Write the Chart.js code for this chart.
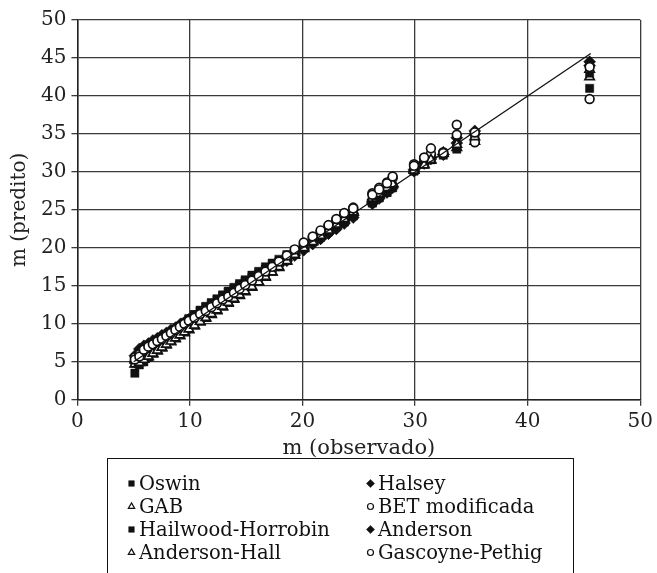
<!DOCTYPE html>
<html>
<head>
<meta charset="utf-8">
<script src="https://cdn.jsdelivr.net/npm/chart.js@4.4.1/dist/chart.umd.min.js"></script>
<style>
  html, body { margin: 0; padding: 0; background: #fff; }
  #wrap { position: relative; width: 657px; height: 573px; overflow: hidden; }
  #myChart { position: absolute; left: 0; top: 0; }
  #legend {
    position: absolute; left: 107px; top: 458px; width: 467px; height: 150px;
    border: 1.5px solid #111; box-sizing: border-box;
    font-family: 'DejaVu Serif', serif; font-size: 19.5px; color: #111;
  }
  .item { position: absolute; height: 24px; display: flex; align-items: center; white-space: nowrap; }
  .item canvas { margin-right: 1px; }
</style>
</head>
<body>
<div id="wrap">
  <canvas id="myChart" width="657" height="573"></canvas>
  <div id="legend"></div>
</div>
<script>
// observed moisture content (shared by all models)
const obsX = [5.1, 5.5, 5.9, 6.3, 6.7, 7.1, 7.5, 7.9, 8.3, 8.7,
              9.1, 9.5, 9.9, 10.4, 10.9, 11.4, 11.9, 12.4, 12.9, 13.4,
              13.9, 14.4, 14.9, 15.5, 16.1, 16.7, 17.3, 17.9, 18.6, 19.3,
              20.1, 20.9, 21.6, 22.3, 23.0, 23.7, 24.5, 26.2, 26.8, 27.5,
              28.0, 29.9, 30.8, 31.4, 32.5, 33.7, 35.3, 45.5];

// predicted values per model
const oswin = [3.5, 4.6, 5.0, 5.6, 6.2, 6.8, 7.5, 8.0, 8.6, 9.1,
               9.6, 10.1, 10.6, 11.2, 11.7, 12.2, 12.7, 13.2, 13.7, 14.2,
               14.6, 15.1, 15.6, 16.1, 16.6, 17.2, 17.7, 18.2, 18.8, 19.4,
               20.1, 20.8, 21.4, 22.1, 22.8, 23.4, 24.2, 25.9, 26.6, 27.3,
               28.1, 30.2, 31.2, 31.9, 32.4, 33.4, 34.6, 41.0];
const halsey = [5.8, 6.7, 7.1, 7.4, 7.8, 8.1, 8.5, 8.8, 9.2, 9.5,
                9.9, 10.2, 10.6, 11.0, 11.4, 11.9, 12.3, 12.8, 13.2, 13.7,
                14.1, 14.6, 15.0, 15.6, 16.1, 16.6, 17.2, 17.7, 18.3, 19.0,
                19.7, 20.5, 21.2, 21.9, 22.7, 23.4, 24.3, 26.0, 26.7, 27.5,
                28.1, 30.3, 31.3, 32.0, 32.3, 34.5, 35.4, 44.5];
const gab = [5.2, 5.0, 5.3, 5.6, 6.0, 6.4, 6.8, 7.2, 7.6, 8.0,
             8.4, 8.8, 9.2, 9.7, 10.2, 10.7, 11.2, 11.7, 12.2, 12.7,
             13.2, 13.7, 14.2, 14.8, 15.5, 16.1, 16.8, 17.4, 18.2, 19.0,
             19.9, 20.8, 21.6, 22.4, 23.2, 24.0, 24.9, 26.7, 27.3, 28.0,
             28.5, 30.3, 31.0, 31.5, 32.4, 33.2, 34.0, 42.5];
const betMod = [5.6, 6.0, 6.4, 6.8, 7.2, 7.5, 7.9, 8.3, 8.7, 9.0,
                9.4, 9.8, 10.2, 10.6, 11.1, 11.5, 12.0, 12.5, 12.9, 13.4,
                13.9, 14.3, 14.8, 15.4, 16.0, 16.6, 17.2, 17.9, 18.7, 19.5,
                20.4, 21.3, 22.1, 22.9, 23.7, 24.5, 25.3, 27.2, 27.9, 28.6,
                29.2, 31.0, 31.8, 32.4, 32.6, 36.2, 33.9, 39.6];
const hailwood = [4.8, 5.3, 5.7, 6.2, 6.7, 7.2, 7.7, 8.2, 8.7, 9.2,
                  9.7, 10.2, 10.7, 11.2, 11.8, 12.3, 12.8, 13.3, 13.8, 14.3,
                  14.8, 15.3, 15.8, 16.4, 16.9, 17.5, 18.0, 18.5, 19.1, 19.7,
                  20.3, 21.0, 21.6, 22.2, 22.9, 23.5, 24.3, 26.0, 26.6, 27.3,
                  27.9, 30.1, 31.0, 31.6, 32.2, 33.0, 34.2, 43.0];
const anderson = [5.0, 5.4, 5.8, 6.3, 6.8, 7.3, 7.8, 8.2, 8.7, 9.2,
                  9.6, 10.1, 10.5, 11.0, 11.5, 12.0, 12.4, 12.9, 13.4, 13.9,
                  14.3, 14.8, 15.3, 15.9, 16.4, 16.9, 17.4, 18.0, 18.6, 19.2,
                  19.9, 20.6, 21.2, 21.9, 22.5, 23.2, 24.0, 25.8, 26.5, 27.3,
                  27.9, 30.1, 31.1, 31.7, 32.3, 33.8, 35.0, 44.0];
const andersonHall = [4.7, 4.9, 5.3, 5.7, 6.1, 6.5, 6.9, 7.3, 7.7, 8.1,
                      8.5, 8.9, 9.3, 9.8, 10.3, 10.8, 11.3, 11.8, 12.3, 12.8,
                      13.3, 13.8, 14.3, 14.9, 15.5, 16.2, 16.8, 17.5, 18.3, 19.1,
                      20.0, 20.8, 21.6, 22.3, 23.1, 23.8, 24.7, 26.5, 27.1, 27.9,
                      28.4, 30.2, 30.9, 31.6, 32.5, 33.6, 34.6, 43.5];
const gascoyne = [5.3, 5.7, 6.6, 7.0, 7.3, 7.7, 8.0, 8.4, 8.8, 9.2,
                  9.6, 10.0, 10.4, 10.8, 11.3, 11.7, 12.2, 12.7, 13.2, 13.6,
                  14.1, 14.6, 15.1, 15.7, 16.3, 16.9, 17.5, 18.2, 19.0, 19.8,
                  20.7, 21.5, 22.3, 23.0, 23.8, 24.6, 25.2, 27.0, 27.7, 28.5,
                  29.4, 30.8, 31.9, 33.1, 32.5, 34.9, 35.2, 43.8];

// 1:1 reference line
const fitX = [5, 45.6];
const fitY = [5, 45.6];

const FONT = "'DejaVu Serif', serif";

function toPoints(xs, ys) {
  return xs.map(function(x, i) { return { x: x, y: ys[i] }; });
}

function series(label, values, style, filled, order) {
  const size = { rect: 5.8, rectRot: 6, triangle: 5.4, circle: 4.4 }[style];
  return {
    type: 'scatter',
    label: label,
    data: toPoints(obsX, values),
    pointStyle: style,
    pointRadius: size,
    pointBackgroundColor: filled ? '#111' : '#fff',
    pointBorderColor: '#111',
    pointBorderWidth: filled ? 0.5 : 1.7,
    order: order
  };
}

const datasets = [
  series('Oswin', oswin, 'rect', true, 8),
  series('Halsey', halsey, 'rectRot', true, 7),
  series('GAB', gab, 'triangle', false, 6),
  series('BET modificada', betMod, 'circle', false, 3),
  series('Hailwood-Horrobin', hailwood, 'rect', true, 5),
  series('Anderson', anderson, 'rectRot', true, 4),
  series('Anderson-Hall', andersonHall, 'triangle', false, 2),
  series('Gascoyne-Pethig', gascoyne, 'circle', false, 1),
  {
    type: 'line',
    label: 'fit',
    data: toPoints(fitX, fitY),
    borderColor: '#111',
    borderWidth: 1.3,
    pointRadius: 0,
    fill: false,
    order: 0
  }
];

const ctx = document.getElementById('myChart').getContext('2d');
const myChart = new Chart(ctx, {
  data: { datasets: datasets },
  options: {
    responsive: false,
    animation: false,
    layout: { padding: { left: 8, right: 1, top: 20, bottom: 112 } },
    plugins: { legend: { display: false }, tooltip: { enabled: false } },
    scales: {
      x: {
        type: 'linear', min: 0, max: 50,
        ticks: { stepSize: 10, color: '#222', padding: 4, font: { family: FONT, size: 20 } },
        grid: { color: '#3a3a3a', lineWidth: 1.3, tickLength: 6 },
        border: { color: '#222', width: 1.5 },
        title: { display: true, text: 'm (observado)', color: '#222', padding: { top: -2, bottom: 0 },
                 font: { family: FONT, size: 21 } }
      },
      y: {
        type: 'linear', min: 0, max: 50,
        ticks: { stepSize: 5, color: '#222', padding: 5, font: { family: FONT, size: 20 } },
        grid: { color: '#3a3a3a', lineWidth: 1.3, tickLength: 6 },
        border: { color: '#222', width: 1.5 },
        title: { display: true, text: 'm (predito)', color: '#222', padding: { top: 0, bottom: 4 },
                 font: { family: FONT, size: 20 } }
      }
    }
  }
});

// legend: two columns, filled row by row
const legendEl = document.getElementById('legend');
myChart.data.datasets.forEach(function(ds, i) {
  if (ds.type !== 'scatter') return;
  const col = i % 2, row = Math.floor(i / 2);
  const item = document.createElement('div');
  item.className = 'item';
  item.style.left = (col === 0 ? 17 : 256) + 'px';
  item.style.top = (12 + row * 23.3) + 'px';
  const icon = document.createElement('canvas');
  icon.width = 13; icon.height = 13;
  const ic = icon.getContext('2d');
  ic.fillStyle = ds.pointBackgroundColor;
  ic.strokeStyle = ds.pointBorderColor;
  ic.lineWidth = ds.pointBorderWidth > 1 ? 1.2 : 0.5;
  Chart.helpers.drawPoint(ic, { pointStyle: ds.pointStyle, radius: ds.pointRadius * 0.68, borderWidth: ic.lineWidth, rotation: 0 }, 6.5, 6.5);
  const text = document.createElement('span');
  text.textContent = ds.label;
  item.appendChild(icon);
  item.appendChild(text);
  legendEl.appendChild(item);
});
</script>
</body>
</html>
